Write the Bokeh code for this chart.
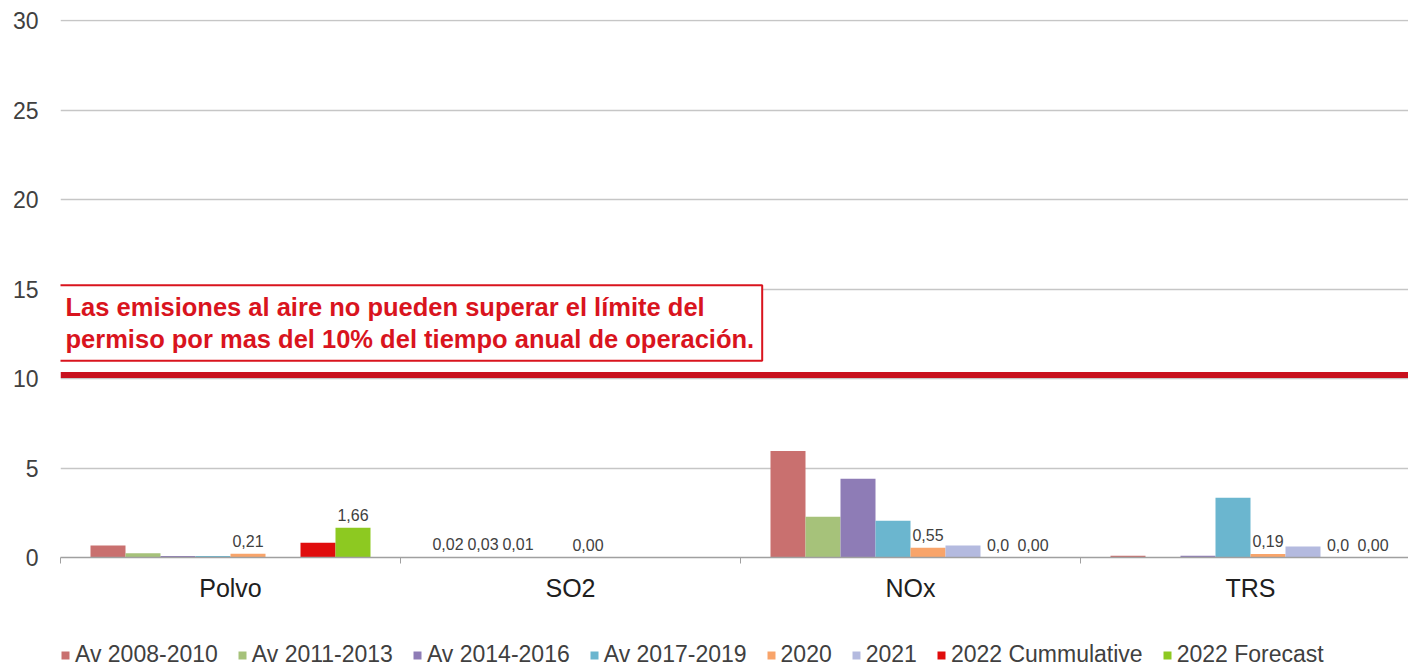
from bokeh.plotting import figure
from bokeh.models import Range1d, FixedTicker, Span, Label, Legend, LegendItem
from bokeh.layouts import column
from bokeh.core.properties import value
from bokeh.embed import file_html
from bokeh.resources import INLINE

categories = ["Polvo", "SO2", "NOx", "TRS"]
series_names = ["Av 2008-2010", "Av 2011-2013", "Av 2014-2016", "Av 2017-2019",
                "2020", "2021", "2022 Cummulative", "2022 Forecast"]

av_2008_2010 = [0.67, 0.02, 5.95, 0.10]
av_2011_2013 = [0.24, 0.03, 2.28, 0.02]
av_2014_2016 = [0.08, 0.01, 4.40, 0.10]
av_2017_2019 = [0.08, 0.00, 2.06, 3.34]
y2020 = [0.21, 0.00, 0.55, 0.19]
y2021 = [0.00, 0.00, 0.67, 0.61]
y2022_cum = [0.83, 0.00, 0.00, 0.00]
y2022_fc = [1.66, 0.00, 0.00, 0.00]

lbl_2008_2010 = ["", "0,02", "", ""]
lbl_2011_2013 = ["", "0,03", "", ""]
lbl_2014_2016 = ["", "0,01", "", ""]
lbl_2017_2019 = ["", "", "", ""]
lbl_2020 = ["0,21", "0,00", "0,55", "0,19"]
lbl_2021 = ["", "", "", ""]
lbl_2022_cum = ["", "", "0,0", "0,0"]
lbl_2022_fc = ["1,66", "", "0,00", "0,00"]

y_ticks = [0, 5, 10, 15, 20, 25, 30]
limit_value = 10.2
note = ("Las emisiones al aire no pueden superar el límite del\n"
        "permiso por mas del 10% del tiempo anual de operación.")

series_values = [av_2008_2010, av_2011_2013, av_2014_2016, av_2017_2019,
                 y2020, y2021, y2022_cum, y2022_fc]
series_labels = [lbl_2008_2010, lbl_2011_2013, lbl_2014_2016, lbl_2017_2019,
                 lbl_2020, lbl_2021, lbl_2022_cum, lbl_2022_fc]
colors = ["#C9706F", "#A6C27A", "#8E7CB6", "#6BB6CF",
          "#F8A46A", "#B4BADF", "#E00C0C", "#8DC921"]

FONT = "Liberation Sans"
TXT = "#404040"

p = figure(width=1408, height=610, output_backend="svg", toolbar_location=None,
           x_range=Range1d(0, 1348 / 340), y_range=Range1d(0, 30.06),
           min_border_left=60, min_border_right=0, min_border_top=19,
           min_border_bottom=53)
p.outline_line_color = None
p.background_fill_color = "white"

# grid
p.xgrid.grid_line_color = None
p.ygrid.grid_line_color = "#C6C6C6"
p.ygrid.grid_line_width = 1.5
p.ygrid.ticker = FixedTicker(ticks=y_ticks)

# y axis
p.yaxis.ticker = FixedTicker(ticks=y_ticks)
p.yaxis.axis_line_color = None
p.yaxis.major_tick_line_color = None
p.yaxis.minor_tick_line_color = None
p.yaxis.major_tick_out = 0
p.yaxis.major_tick_in = 0
p.yaxis.major_label_standoff = 22
p.yaxis.major_label_text_font = FONT
p.yaxis.major_label_text_font_size = "23px"
p.yaxis.major_label_text_color = TXT

# x axis
centers = [i + 0.5 for i in range(len(categories))]
bounds = [i for i in range(len(categories) + 1)]
p.xaxis.ticker = FixedTicker(ticks=centers, minor_ticks=bounds)
p.xaxis.major_label_overrides = {c: n for c, n in zip(centers, categories)}
p.xaxis.axis_line_color = "#A0A0A0"
p.xaxis.axis_line_width = 1.5
p.xaxis.major_tick_line_color = None
p.xaxis.major_tick_out = 0
p.xaxis.major_tick_in = 0
p.xaxis.minor_tick_line_color = "#A0A0A0"
p.xaxis.minor_tick_out = 6
p.xaxis.minor_tick_in = 0
p.xaxis.major_label_standoff = 10
p.xaxis.major_label_text_font = FONT
p.xaxis.major_label_text_font_size = "25px"
p.xaxis.major_label_text_color = "#202020"

bw = 35 / 340
for j, (name, vals, lbls, col) in enumerate(zip(series_names, series_values, series_labels, colors)):
    xs = [i + 0.5 + (j - 3.5) * bw for i in range(len(categories))]
    p.vbar(x=xs, top=vals, width=bw, fill_color=col, line_color=None)
    p.text(x=xs, y=vals, text=lbls, text_align="center", text_baseline="bottom",
           y_offset=-7, text_font=value(FONT), text_font_size="16px", text_color=TXT)

limit = Span(location=limit_value, dimension="width", line_color="#C8111E", line_width=6)
p.add_layout(limit)

box = Label(x=-0.0088, y=11.0, text=note, text_align="left", text_baseline="bottom",
            text_font=FONT, text_font_style="bold", text_font_size="25.5px",
            text_color="#D9141E", text_line_height=1.12,
            border_line_color="#D9141E", border_line_width=2,
            background_fill_color="white", padding=8)
p.add_layout(box)

# legend strip below the chart
q = figure(width=1408, height=61, output_backend="svg", toolbar_location=None,
           x_range=Range1d(0, 1), y_range=Range1d(0, 1),
           x_axis_location=None, y_axis_location=None,
           min_border_left=0, min_border_right=0, min_border_top=0, min_border_bottom=0)
q.outline_line_color = None
q.xgrid.grid_line_color = None
q.ygrid.grid_line_color = None
items = []
for name, col in zip(series_names, colors):
    # zero-height bar: invisible, only supplies the legend swatch colour
    r = q.vbar(x=[0.5], top=[0], bottom=[0], width=0.0, fill_color=col, line_color=None)
    items.append(LegendItem(label=name, renderers=[r]))

legend = Legend(items=items, orientation="horizontal", location=(0, 3),
                padding=0, margin=0, spacing=19, label_standoff=5,
                glyph_width=10, glyph_height=10,
                label_text_font=FONT, label_text_font_size="23px",
                label_text_color=TXT, border_line_color=None,
                background_fill_alpha=0)
q.add_layout(legend)

layout = column(p, q, spacing=0)
open("out.html", "w").write(file_html(layout, INLINE))
